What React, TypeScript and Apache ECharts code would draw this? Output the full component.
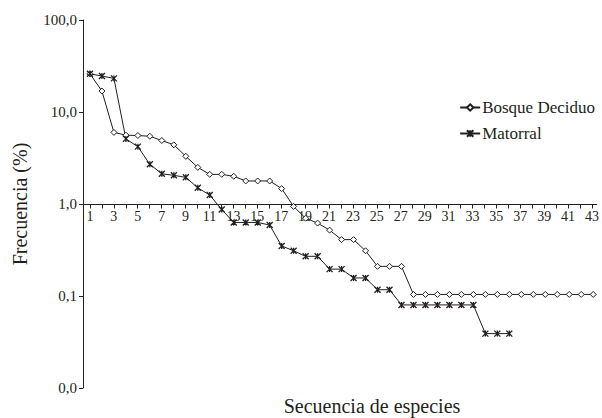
import React, { useEffect, useRef } from "react";
import * as echarts from "echarts";

const speciesRank = [1, 2, 3, 4, 5, 6, 7, 8, 9, 10, 11, 12, 13, 14, 15, 16, 17, 18, 19, 20, 21, 22, 23, 24, 25, 26, 27, 28, 29, 30, 31, 32, 33, 34, 35, 36, 37, 38, 39, 40, 41, 42, 43];
const xTickLabels = [1, 3, 5, 7, 9, 11, 13, 15, 17, 19, 21, 23, 25, 27, 29, 31, 33, 35, 37, 39, 41, 43];
const yTickValues = [0.01, 0.1, 1, 10, 100];

const bosqueDeciduo = [
  26, 16.9, 6.0, 5.6, 5.55, 5.45, 4.9, 4.4, 3.3, 2.5,
  2.1, 2.1, 2.0, 1.78, 1.78, 1.78, 1.47, 0.94, 0.7, 0.62,
  0.52, 0.41, 0.41, 0.31, 0.21, 0.21, 0.21, 0.104, 0.104, 0.104,
  0.104, 0.104, 0.104, 0.104, 0.104, 0.104, 0.104, 0.104, 0.104, 0.104,
  0.104, 0.104, 0.104,
];
const matorral = [
  26, 24.6, 23.2, 5.1, 4.2, 2.7, 2.13, 2.05, 1.95, 1.5,
  1.25, 0.87, 0.63, 0.63, 0.63, 0.59, 0.35, 0.31, 0.27, 0.27,
  0.196, 0.196, 0.157, 0.157, 0.117, 0.117, 0.08, 0.08, 0.08, 0.08,
  0.08, 0.08, 0.08, 0.039, 0.039, 0.039,
];

const FONT = "Liberation Serif";
const INK = "#231f20";
const ASTERISK = "path://M0,0L8,8M8,0L0,8M4,0L4,8";

export default function App() {
  const ref = useRef<HTMLDivElement>(null);
  useEffect(() => {
    if (!ref.current) return;
    const chart = echarts.init(ref.current, null, { renderer: "svg" });
    const left = 83;
    const width = 515;
    const xMin = 0.42;
    const xMax = 43.4;
    chart.setOption({
      animation: false,
      backgroundColor: "#fff",
      textStyle: { fontFamily: FONT, color: INK },
      grid: [
        { left, width, top: 20, height: 368 },
        { left, width, top: 20, height: 184.5 },
      ],
      xAxis: [
        { type: "value", gridIndex: 0, min: xMin, max: xMax, show: false },
        {
          type: "value",
          gridIndex: 1,
          min: xMin,
          max: xMax,
          axisLine: { lineStyle: { color: INK, width: 1 } },
          axisTick: { show: true, length: 4, customValues: speciesRank, lineStyle: { color: INK } },
          axisLabel: { customValues: xTickLabels, fontSize: 14, margin: 5, color: INK, fontFamily: FONT },
          splitLine: { show: false },
        },
      ],
      yAxis: [
        {
          type: "log",
          gridIndex: 0,
          logBase: 10,
          min: 0.01,
          max: 100,
          axisLine: { show: true, lineStyle: { color: INK, width: 1 } },
          axisTick: { show: true, length: 4, customValues: yTickValues, lineStyle: { color: INK } },
          axisLabel: {
            customValues: yTickValues,
            fontSize: 15,
            margin: 6,
            color: INK,
            fontFamily: FONT,
            formatter: (v: number) => v.toFixed(1).replace(".", ","),
          },
          splitLine: { show: false },
          minorTick: { show: false },
        },
        { type: "value", gridIndex: 1, show: false, min: 0, max: 1 },
      ],
      legend: {
        orient: "vertical",
        right: 2,
        top: 94,
        itemWidth: 20,
        itemHeight: 8,
        itemGap: 9,
        textStyle: { fontFamily: FONT, fontSize: 17, color: INK, padding: [0, 0, 0, -3] },
        data: ["Bosque Deciduo", "Matorral"],
      },
      graphic: [
        {
          type: "text",
          x: 20,
          y: 204,
          rotation: Math.PI / 2,
          style: {
            text: "Frecuencia (%)",
            fontFamily: FONT,
            fontSize: 20,
            fill: INK,
            textAlign: "center",
            textVerticalAlign: "middle",
          },
        },
        {
          type: "text",
          x: 372,
          y: 406,
          style: {
            text: "Secuencia de especies",
            fontFamily: FONT,
            fontSize: 20,
            fill: INK,
            textAlign: "center",
            textVerticalAlign: "middle",
          },
        },
      ],
      series: [
        {
          name: "Bosque Deciduo",
          type: "line",
          xAxisIndex: 0,
          yAxisIndex: 0,
          data: bosqueDeciduo.map((v, i) => [speciesRank[i], v]),
          symbol: "diamond",
          symbolSize: 6,
          showAllSymbol: true,
          lineStyle: { color: INK, width: 1 },
          itemStyle: { color: "#fff", borderColor: INK, borderWidth: 1 },
        },
        {
          name: "Matorral",
          type: "line",
          xAxisIndex: 0,
          yAxisIndex: 0,
          data: matorral.map((v, i) => [speciesRank[i], v]),
          symbol: ASTERISK,
          symbolSize: 6,
          showAllSymbol: true,
          lineStyle: { color: INK, width: 1 },
          itemStyle: { color: INK, borderColor: INK, borderWidth: 1.3 },
        },
      ],
    });
    return () => chart.dispose();
  }, []);
  return (
    <div
      ref={ref}
      style={{ position: "fixed", left: 0, top: 0, width: 602, height: 418, overflow: "hidden" }}
    />
  );
}
